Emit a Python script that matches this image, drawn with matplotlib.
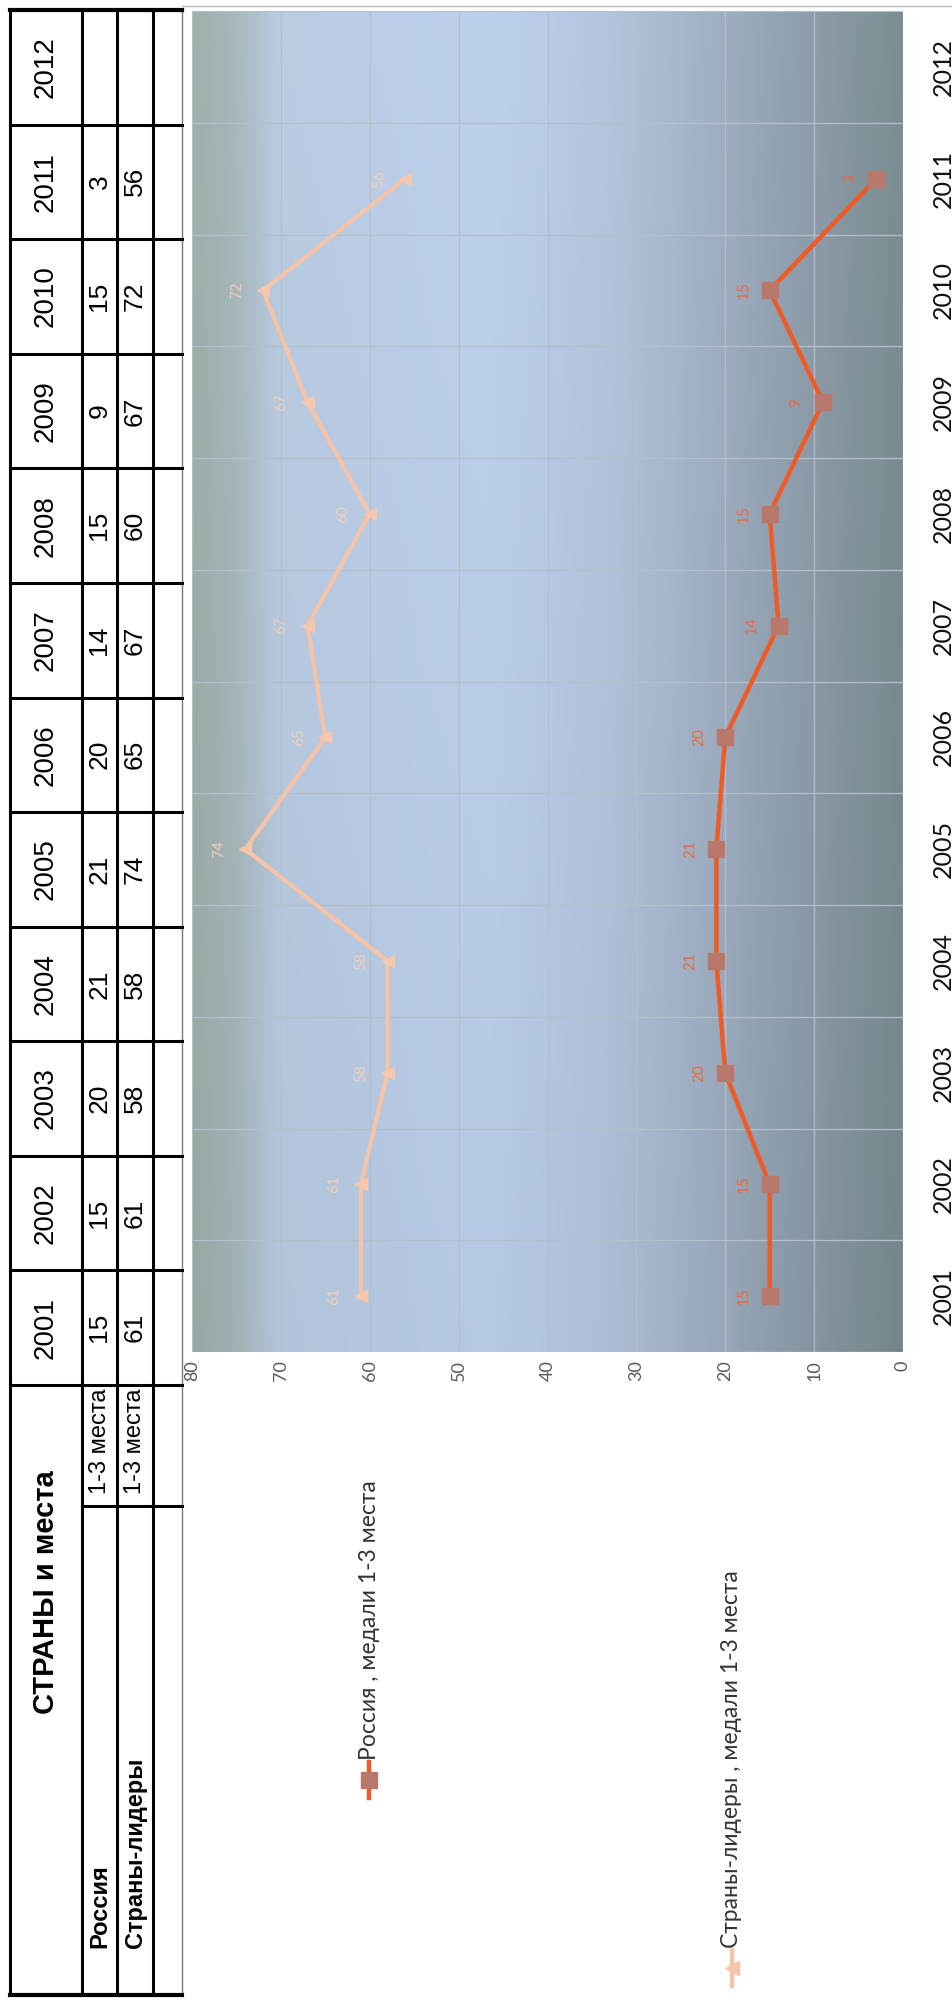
import numpy as np
import matplotlib
matplotlib.use('Agg')
import matplotlib.pyplot as plt
from matplotlib.colors import LinearSegmentedColormap

# ---------------- data ----------------
years = ['2001', '2002', '2003', '2004', '2005', '2006',
         '2007', '2008', '2009', '2010', '2011', '2012']
russia = [15, 15, 20, 21, 21, 20, 14, 15, 9, 15, 3]
leaders = [61, 61, 58, 58, 74, 65, 67, 60, 67, 72, 56]
value_ticks = [0, 10, 20, 30, 40, 50, 60, 70, 80]
table_title = 'СТРАНЫ и места'
row_names = ['Россия', 'Страны-лидеры']
row_sub = ['1-3 места', '1-3 места']
legend_labels = ['Россия , медали 1-3 места', 'Страны-лидеры , медали 1-3 места']

W, H = 952, 2002
fig = plt.figure(figsize=(W / 100, H / 100), dpi=100)
fig.patch.set_facecolor('white')

# overlay axes in pixel coordinates (table + legend)
ov = fig.add_axes([0, 0, 1, 1], zorder=0)
ov.set_xlim(0, W)
ov.set_ylim(H, 0)
ov.axis('off')

# ---------------- chart ----------------
P_L, P_R, P_T, P_B = 192, 903, 11, 1352
ax = fig.add_axes([P_L / W, 1 - P_B / H, (P_R - P_L) / W, (P_B - P_T) / H], zorder=2)
n = len(years)
ax.set_xlim(80, 0)
ax.set_ylim(-0.5, n - 0.5)

# background gradient (plot area)
stops = [(0.00, (158, 175, 172)), (0.06, (168, 184, 186)), (0.12, (186, 204, 226)),
         (0.42, (190, 209, 236)), (0.58, (180, 198, 222)), (0.74, (160, 175, 194)),
         (0.90, (138, 153, 164)), (1.00, (124, 142, 146))]
cmap = LinearSegmentedColormap.from_list('bg', [(p, tuple(c / 255 for c in col)) for p, col in stops])
g = np.linspace(0, 1, 512)
grad = np.tile(g, (64, 1))
img = cmap(grad)[:, :, :3]
vshade = np.linspace(0.0, 0.05, 64)[:, None, None]
img = np.clip(img - vshade[::-1] * 0.6, 0, 1)
ax.imshow(img, extent=[80, 0, -0.5, n - 0.5], aspect='auto', zorder=0,
          interpolation='bilinear', origin='lower')

grid_c = '#b3bfcc'
for v in value_ticks:
    ax.axvline(v, color=grid_c, lw=0.9, zorder=1)
for b in np.arange(n + 1) - 0.5:
    ax.axhline(b, color=grid_c, lw=0.9, zorder=1)

yr = np.arange(len(russia))
yl = np.arange(len(leaders))
ax.plot(leaders, yl, color='#f7c3a6', lw=3.0, marker='<', markersize=9,
        markerfacecolor='#f6c7ae', markeredgecolor='#f6c7ae', zorder=3)
ax.plot(russia, yr, color='#f05a24', lw=3.2, marker='s', markersize=12,
        markerfacecolor='#b9786c', markeredgecolor='#b9786c', zorder=4)

for v, y in zip(russia, yr):
    ax.annotate(str(v), (v, y), xytext=(-19, 0), textcoords='offset points',
                rotation=90, ha='center', va='center', fontsize=11,
                color='#ec6a3f', family='Lato', zorder=5)
for v, y in zip(leaders, yl):
    ax.annotate(str(v), (v, y), xytext=(-19, 0), textcoords='offset points',
                rotation=90, ha='center', va='center', fontsize=11,
                color='#f3cdb8', family='Lato', zorder=5)

for s in ax.spines.values():
    s.set_visible(False)
ax.set_xticks(value_ticks)
ax.set_xticklabels([str(v) for v in value_ticks])
ax.tick_params(axis='x', length=0, pad=6, labelsize=13, labelcolor='#595959', labelrotation=90)
ax.set_yticks(np.arange(n))
ax.set_yticklabels(years)
ax.yaxis.tick_right()
ax.tick_params(axis='y', length=0, pad=21, labelsize=18, labelcolor='#111111')
for t in ax.get_yticklabels():
    t.set_rotation(90)
    t.set_va('center')
    t.set_family('Lato')
for t in ax.get_xticklabels():
    t.set_family('Lato')

# ---------------- table ----------------
T_L, C1, C2, C3, T_R = 10, 82, 117, 153, 182
T_T, T_Y, T_S, T_B = 10, 1385, 1506, 1995
cell_h = (T_Y - T_T) / n
lw = 2.2
for x in (T_L, C1, C2, C3):
    ov.plot([x, x], [T_T, T_B], color='black', lw=lw, solid_capstyle='butt')
ov.plot([T_R, T_R], [T_T, T_B], color='#777777', lw=1.0)
ov.plot([T_L, T_R], [T_T, T_T], color='black', lw=lw + 0.8)
ov.plot([T_L, T_R], [T_B, T_B], color='black', lw=lw + 0.8)
for k in range(n + 1):
    yy = T_Y - k * cell_h
    ov.plot([T_L, T_R], [yy, yy], color='black', lw=lw)
ov.plot([C1, T_R], [T_S, T_S], color='black', lw=lw)

for k, yname in enumerate(years):
    yc = T_Y - (k + 0.5) * cell_h
    ov.text((T_L + C1) / 2, yc, yname, rotation=90, ha='center', va='center',
            fontsize=20, family='Liberation Sans')
    if k < len(russia):
        ov.text((C1 + C2) / 2, yc, str(russia[k]), rotation=90, ha='center', va='center',
                fontsize=19, family='Liberation Sans')
    if k < len(leaders):
        ov.text((C2 + C3) / 2, yc, str(leaders[k]), rotation=90, ha='center', va='center',
                fontsize=19, family='Liberation Sans')

ov.text((T_L + C1) / 2, 1592, table_title, rotation=90, ha='center', va='center',
        fontsize=21, fontweight='bold', family='Liberation Sans')
for xc, nm, sb in zip([(C1 + C2) / 2, (C2 + C3) / 2], row_names, row_sub):
    ov.text(xc, 1948, nm, rotation=90, rotation_mode='anchor', ha='left', va='center',
            fontsize=17, fontweight='bold', family='Liberation Sans')
    ov.text(xc, 1494, sb, rotation=90, rotation_mode='anchor', ha='left', va='center',
            fontsize=17, family='Liberation Sans')

# ---------------- legend ----------------
leg_x = [369, 732]
leg_y = [1780, 1968]
leg_style = [dict(color='#f05a24', marker='s', mfc='#b9786c', mec='#b9786c', ms=11),
             dict(color='#f7c3a6', marker='<', mfc='#f6c7ae', mec='#f6c7ae', ms=10)]
for x, y0, lab, st in zip(leg_x, leg_y, legend_labels, leg_style):
    ov.plot([x, x], [y0 - 18, y0 + 18], color=st['color'], lw=3.2)
    ov.plot([x], [y0], marker=st['marker'], markersize=st['ms'],
            markerfacecolor=st['mfc'], markeredgecolor=st['mec'], linestyle='none')
    ov.text(x, y0 - 20, lab, rotation=90, rotation_mode='anchor', ha='left', va='center',
            fontsize=16.5, color='#333333', family='Lato')

# top border of chart area
ov.plot([T_R, W], [6, 6], color='#bbbbbb', lw=1.0)

fig.savefig('out.png', dpi=100, facecolor='white')
